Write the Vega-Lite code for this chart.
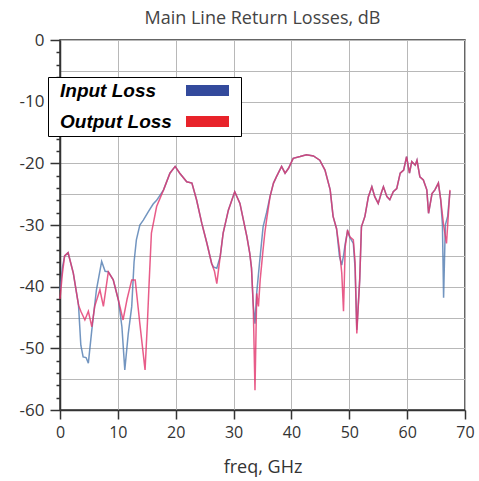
{
  "$schema": "https://vega.github.io/schema/vega-lite/v6.json",
  "width": 405,
  "height": 370,
  "autosize": {"type": "none"},
  "padding": {"left": 60, "top": 40, "right": 14, "bottom": 71},
  "background": "white",
  "title": {"text": "Main Line Return Losses, dB", "font": "Open Sans", "fontSize": 18, "fontWeight": "normal", "color": "#444", "offset": 3},
  "config": {
    "view": {"stroke": "#333", "strokeWidth": 1.5},
    "axis": {"labelFont": "Open Sans", "titleFont": "Open Sans", "labelColor": "#333", "titleColor": "#333", "gridColor": "#b8b8b8", "gridWidth": 1, "domainColor": "#333", "domainWidth": 1.5, "tickColor": "#333", "tickWidth": 1.5}
  },
  "data": {"values": [
    {"s":"Input Loss","f":0,"v":-40.5},{"s":"Input Loss","f":0.4,"v":-37},{"s":"Input Loss","f":0.8,"v":-35},{"s":"Input Loss","f":1.4,"v":-34.5},{"s":"Input Loss","f":2.3,"v":-37.8},{"s":"Input Loss","f":3.2,"v":-43},{"s":"Input Loss","f":3.6,"v":-49.5},{"s":"Input Loss","f":4.0,"v":-51.4},{"s":"Input Loss","f":4.5,"v":-51.5},{"s":"Input Loss","f":4.9,"v":-52.4},{"s":"Input Loss","f":5.5,"v":-47},{"s":"Input Loss","f":6.3,"v":-40.5},{"s":"Input Loss","f":7.2,"v":-35.9},{"s":"Input Loss","f":7.8,"v":-37.5},{"s":"Input Loss","f":8.35,"v":-37.6},{"s":"Input Loss","f":9.2,"v":-38.9},{"s":"Input Loss","f":10.1,"v":-42.2},{"s":"Input Loss","f":10.7,"v":-46.5},{"s":"Input Loss","f":11.2,"v":-53.5},{"s":"Input Loss","f":11.8,"v":-47.6},{"s":"Input Loss","f":12.4,"v":-43.2},{"s":"Input Loss","f":12.8,"v":-36},{"s":"Input Loss","f":13.2,"v":-32.4},{"s":"Input Loss","f":13.8,"v":-30},{"s":"Input Loss","f":14.4,"v":-29.2},{"s":"Input Loss","f":15.3,"v":-27.8},{"s":"Input Loss","f":16.1,"v":-26.6},{"s":"Input Loss","f":16.7,"v":-26},{"s":"Input Loss","f":17.9,"v":-24.3},{"s":"Input Loss","f":19.0,"v":-21.6},{"s":"Input Loss","f":19.9,"v":-20.5},{"s":"Input Loss","f":20.7,"v":-21.6},{"s":"Input Loss","f":21.9,"v":-23},{"s":"Input Loss","f":22.8,"v":-23.2},{"s":"Input Loss","f":23.6,"v":-25.9},{"s":"Input Loss","f":24.5,"v":-29.7},{"s":"Input Loss","f":25.4,"v":-33},{"s":"Input Loss","f":26.2,"v":-36.2},{"s":"Input Loss","f":26.5,"v":-36.8},{"s":"Input Loss","f":27.1,"v":-37},{"s":"Input Loss","f":27.7,"v":-35.1},{"s":"Input Loss","f":28.2,"v":-31.3},{"s":"Input Loss","f":29.1,"v":-27.6},{"s":"Input Loss","f":30.2,"v":-24.6},{"s":"Input Loss","f":31.1,"v":-26.5},{"s":"Input Loss","f":32.3,"v":-31.9},{"s":"Input Loss","f":32.8,"v":-34.6},{"s":"Input Loss","f":33.1,"v":-37},{"s":"Input Loss","f":33.4,"v":-43},{"s":"Input Loss","f":33.7,"v":-46},{"s":"Input Loss","f":34.0,"v":-41},{"s":"Input Loss","f":34.4,"v":-37},{"s":"Input Loss","f":35.1,"v":-30.3},{"s":"Input Loss","f":35.7,"v":-28},{"s":"Input Loss","f":36.3,"v":-25.4},{"s":"Input Loss","f":36.9,"v":-23.2},{"s":"Input Loss","f":37.4,"v":-22.2},{"s":"Input Loss","f":38.3,"v":-20.5},{"s":"Input Loss","f":38.9,"v":-21.6},{"s":"Input Loss","f":39.5,"v":-20.8},{"s":"Input Loss","f":40.3,"v":-19.2},{"s":"Input Loss","f":41.5,"v":-18.9},{"s":"Input Loss","f":42.6,"v":-18.6},{"s":"Input Loss","f":43.8,"v":-18.8},{"s":"Input Loss","f":44.9,"v":-19.5},{"s":"Input Loss","f":45.8,"v":-21.1},{"s":"Input Loss","f":46.7,"v":-24.3},{"s":"Input Loss","f":47.2,"v":-28.6},{"s":"Input Loss","f":47.8,"v":-30.6},{"s":"Input Loss","f":48.3,"v":-35.1},{"s":"Input Loss","f":48.7,"v":-36.5},{"s":"Input Loss","f":49.0,"v":-35},{"s":"Input Loss","f":49.3,"v":-33},{"s":"Input Loss","f":49.7,"v":-31},{"s":"Input Loss","f":50.1,"v":-32},{"s":"Input Loss","f":50.7,"v":-33},{"s":"Input Loss","f":51.0,"v":-37},{"s":"Input Loss","f":51.3,"v":-47},{"s":"Input Loss","f":51.8,"v":-38.9},{"s":"Input Loss","f":52.1,"v":-30.3},{"s":"Input Loss","f":52.7,"v":-28.6},{"s":"Input Loss","f":53.3,"v":-25.4},{"s":"Input Loss","f":53.9,"v":-23.8},{"s":"Input Loss","f":54.4,"v":-25.4},{"s":"Input Loss","f":55.0,"v":-26.5},{"s":"Input Loss","f":55.6,"v":-24.6},{"s":"Input Loss","f":55.9,"v":-23.8},{"s":"Input Loss","f":56.5,"v":-25.4},{"s":"Input Loss","f":57.0,"v":-25.9},{"s":"Input Loss","f":57.6,"v":-24.6},{"s":"Input Loss","f":58.2,"v":-24.1},{"s":"Input Loss","f":58.8,"v":-21.6},{"s":"Input Loss","f":59.4,"v":-21.1},{"s":"Input Loss","f":59.9,"v":-18.9},{"s":"Input Loss","f":60.4,"v":-21.6},{"s":"Input Loss","f":60.8,"v":-19.7},{"s":"Input Loss","f":61.4,"v":-20.3},{"s":"Input Loss","f":61.7,"v":-19.5},{"s":"Input Loss","f":62.2,"v":-22.2},{"s":"Input Loss","f":62.8,"v":-22.7},{"s":"Input Loss","f":63.4,"v":-24.3},{"s":"Input Loss","f":63.7,"v":-28.1},{"s":"Input Loss","f":64.3,"v":-24.9},{"s":"Input Loss","f":64.8,"v":-24.3},{"s":"Input Loss","f":65.4,"v":-23.2},{"s":"Input Loss","f":65.8,"v":-25.9},{"s":"Input Loss","f":66.1,"v":-30},{"s":"Input Loss","f":66.3,"v":-41.8},{"s":"Input Loss","f":66.6,"v":-30},{"s":"Input Loss","f":67.0,"v":-28.6},{"s":"Input Loss","f":67.4,"v":-24.5},
    {"s":"Output Loss","f":0,"v":-42},{"s":"Output Loss","f":0.4,"v":-38},{"s":"Output Loss","f":0.8,"v":-35},{"s":"Output Loss","f":1.4,"v":-34.5},{"s":"Output Loss","f":2.3,"v":-37.8},{"s":"Output Loss","f":3.2,"v":-43},{"s":"Output Loss","f":3.6,"v":-44},{"s":"Output Loss","f":4.3,"v":-45.4},{"s":"Output Loss","f":4.9,"v":-44},{"s":"Output Loss","f":5.5,"v":-46.5},{"s":"Output Loss","f":6.0,"v":-43.2},{"s":"Output Loss","f":6.9,"v":-40.5},{"s":"Output Loss","f":7.5,"v":-43.2},{"s":"Output Loss","f":8.35,"v":-37.6},{"s":"Output Loss","f":9.2,"v":-38.9},{"s":"Output Loss","f":10.1,"v":-42.2},{"s":"Output Loss","f":10.9,"v":-45.4},{"s":"Output Loss","f":11.6,"v":-42},{"s":"Output Loss","f":12.4,"v":-38.9},{"s":"Output Loss","f":13.0,"v":-38.9},{"s":"Output Loss","f":13.8,"v":-46},{"s":"Output Loss","f":14.7,"v":-53.5},{"s":"Output Loss","f":15.1,"v":-46},{"s":"Output Loss","f":15.4,"v":-39.5},{"s":"Output Loss","f":15.8,"v":-31.3},{"s":"Output Loss","f":16.7,"v":-27},{"s":"Output Loss","f":17.9,"v":-24.3},{"s":"Output Loss","f":19.0,"v":-21.6},{"s":"Output Loss","f":19.9,"v":-20.5},{"s":"Output Loss","f":20.7,"v":-21.6},{"s":"Output Loss","f":21.9,"v":-23},{"s":"Output Loss","f":22.8,"v":-23.2},{"s":"Output Loss","f":23.6,"v":-25.9},{"s":"Output Loss","f":24.5,"v":-29.7},{"s":"Output Loss","f":25.4,"v":-33},{"s":"Output Loss","f":26.2,"v":-36.2},{"s":"Output Loss","f":26.7,"v":-37.5},{"s":"Output Loss","f":27.1,"v":-39.5},{"s":"Output Loss","f":27.5,"v":-36.5},{"s":"Output Loss","f":28.2,"v":-31.3},{"s":"Output Loss","f":29.1,"v":-27.6},{"s":"Output Loss","f":30.2,"v":-24.6},{"s":"Output Loss","f":31.1,"v":-26.5},{"s":"Output Loss","f":32.3,"v":-31.9},{"s":"Output Loss","f":32.8,"v":-34.6},{"s":"Output Loss","f":33.1,"v":-37},{"s":"Output Loss","f":33.4,"v":-43},{"s":"Output Loss","f":33.7,"v":-56.8},{"s":"Output Loss","f":34.0,"v":-41.1},{"s":"Output Loss","f":34.3,"v":-43.2},{"s":"Output Loss","f":34.6,"v":-38.9},{"s":"Output Loss","f":35.1,"v":-34},{"s":"Output Loss","f":35.4,"v":-31.3},{"s":"Output Loss","f":35.7,"v":-29.2},{"s":"Output Loss","f":36.3,"v":-25.4},{"s":"Output Loss","f":36.9,"v":-23.2},{"s":"Output Loss","f":37.4,"v":-22.2},{"s":"Output Loss","f":38.3,"v":-20.5},{"s":"Output Loss","f":38.9,"v":-21.6},{"s":"Output Loss","f":39.5,"v":-20.8},{"s":"Output Loss","f":40.3,"v":-19.2},{"s":"Output Loss","f":41.5,"v":-18.9},{"s":"Output Loss","f":42.6,"v":-18.6},{"s":"Output Loss","f":43.8,"v":-18.8},{"s":"Output Loss","f":44.9,"v":-19.5},{"s":"Output Loss","f":45.8,"v":-21.1},{"s":"Output Loss","f":46.7,"v":-24.3},{"s":"Output Loss","f":47.2,"v":-28.6},{"s":"Output Loss","f":47.8,"v":-30.6},{"s":"Output Loss","f":48.3,"v":-34},{"s":"Output Loss","f":48.7,"v":-37.8},{"s":"Output Loss","f":49.0,"v":-44},{"s":"Output Loss","f":49.3,"v":-33.5},{"s":"Output Loss","f":49.7,"v":-30.8},{"s":"Output Loss","f":50.1,"v":-31.9},{"s":"Output Loss","f":50.7,"v":-32.4},{"s":"Output Loss","f":51.0,"v":-36},{"s":"Output Loss","f":51.3,"v":-47.6},{"s":"Output Loss","f":51.8,"v":-38.9},{"s":"Output Loss","f":52.1,"v":-30.3},{"s":"Output Loss","f":52.7,"v":-28.6},{"s":"Output Loss","f":53.3,"v":-25.4},{"s":"Output Loss","f":53.9,"v":-23.8},{"s":"Output Loss","f":54.4,"v":-25.4},{"s":"Output Loss","f":55.0,"v":-26.5},{"s":"Output Loss","f":55.6,"v":-24.6},{"s":"Output Loss","f":55.9,"v":-23.8},{"s":"Output Loss","f":56.5,"v":-25.4},{"s":"Output Loss","f":57.0,"v":-25.9},{"s":"Output Loss","f":57.6,"v":-24.6},{"s":"Output Loss","f":58.2,"v":-24.1},{"s":"Output Loss","f":58.8,"v":-21.6},{"s":"Output Loss","f":59.4,"v":-21.1},{"s":"Output Loss","f":59.9,"v":-18.9},{"s":"Output Loss","f":60.4,"v":-21.6},{"s":"Output Loss","f":60.8,"v":-19.7},{"s":"Output Loss","f":61.4,"v":-20.3},{"s":"Output Loss","f":61.7,"v":-19.5},{"s":"Output Loss","f":62.2,"v":-22.2},{"s":"Output Loss","f":62.8,"v":-22.7},{"s":"Output Loss","f":63.4,"v":-24.3},{"s":"Output Loss","f":63.7,"v":-28.1},{"s":"Output Loss","f":64.3,"v":-24.9},{"s":"Output Loss","f":64.8,"v":-24.3},{"s":"Output Loss","f":65.4,"v":-23.2},{"s":"Output Loss","f":65.8,"v":-25.9},{"s":"Output Loss","f":66.3,"v":-30},{"s":"Output Loss","f":66.8,"v":-33},{"s":"Output Loss","f":67.1,"v":-28.6},{"s":"Output Loss","f":67.4,"v":-24.3}
  ]},
  "resolve": {"axis": {"y": "independent"}},
  "layer": [
    {
      "mark": {"type": "line", "opacity": 0},
      "encoding": {
        "x": {"field": "f", "type": "quantitative", "scale": {"domain": [0, 70], "nice": false}},
        "y": {"field": "v", "type": "quantitative", "scale": {"domain": [-60, 0], "nice": false},
          "axis": {"orient": "left", "values": [-58,-56,-54,-52,-48,-46,-44,-42,-38,-36,-34,-32,-28,-26,-24,-22,-18,-16,-14,-12,-8,-6,-4,-2], "labels": false, "grid": false, "domain": false, "tickSize": 4, "title": null}},
        "detail": {"field": "s"}
      }
    },
    {
      "mark": {"type": "line", "strokeWidth": 1.5, "opacity": 0.8},
      "encoding": {
        "x": {"field": "f", "type": "quantitative", "scale": {"domain": [0, 70], "nice": false},
          "axis": {"values": [0,5,10,15,20,25,30,35,40,45,50,55,60,65,70], "title": "freq, GHz", "labelFontSize": 16, "titleFontSize": 18, "titleFontWeight": "normal", "tickSize": 9, "labelPadding": 5, "titlePadding": 18, "grid": true, "labelFlush": false}},
        "y": {"field": "v", "type": "quantitative", "scale": {"domain": [-60, 0], "nice": false},
          "axis": {"orient": "left", "values": [-60,-55,-50,-45,-40,-35,-30,-25,-20,-15,-10,-5,0], "labelExpr": "datum.value % 10 === 0 ? toString(datum.value) : ''", "labelFontSize": 17, "tickSize": 10, "labelPadding": 6, "grid": true, "title": null, "labelFlush": false,
            "tickOpacity": {"expr": "datum.value % 10 === 0 ? 1 : 0"}}},
        "color": {"field": "s", "type": "nominal", "scale": {"domain": ["Input Loss", "Output Loss"], "range": ["#4f7ab0", "#e2336b"]},
          "legend": {"title": null, "orient": "none", "legendX": -12, "legendY": 37, "fillColor": "white", "strokeColor": "black", "padding": 4, "rowPadding": 11,
            "labelFont": "Liberation Sans", "labelFontSize": 19, "labelFontWeight": "bold", "labelFontStyle": "italic", "labelColor": "black", "labelOffset": -11, "labelLimit": 300,
            "symbolType": "M124.5,-5.5H167.5V5.5H124.5Z M175,0H175.1V0.1H175Z", "symbolSize": 4, "symbolStrokeWidth": 0, "symbolOpacity": 1,
            "symbolFillColor": {"expr": "datum.value === 'Input Loss' ? '#334a9c' : '#e8232a'"}}}
      }
    }
  ]
}
